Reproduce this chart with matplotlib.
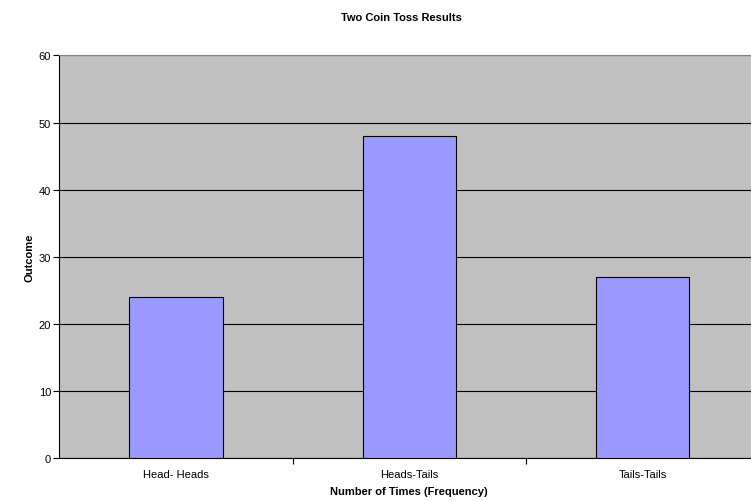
import matplotlib
matplotlib.use('Agg')
import matplotlib.pyplot as plt
import matplotlib.ticker as mtick

# data
categories = ['Head- Heads', 'Heads-Tails', 'Tails-Tails']
counts = [24, 48, 27]
yticks = [0, 10, 20, 30, 40, 50, 60]

plt.rcParams['font.family'] = ['Liberation Sans', 'DejaVu Sans']

fig = plt.figure(figsize=(7.51, 5.02), dpi=100)
# plot area runs a little past the right edge of the picture
ax = fig.add_axes([0.0792, 0.0857, 0.9314, 0.8018])
ax.set_facecolor('#C0C0C0')

pos = list(range(len(categories)))
ax.bar(pos, counts, width=0.4, color='#9999FF', edgecolor='black', linewidth=0.8, zorder=3)

ax.set_ylim(0, 60)
ax.set_xlim(-0.5, len(categories) - 0.5)
ax.set_yticks(yticks)
ax.yaxis.grid(True, color='black', linewidth=0.8, zorder=1)
ax.set_axisbelow(True)

ax.set_xticks(pos)
ax.set_xticklabels(categories)
ax.tick_params(axis='x', which='major', length=0, pad=8, labelsize=8)
ax.xaxis.set_minor_locator(mtick.FixedLocator([0.5, 1.5]))
ax.tick_params(axis='x', which='minor', length=4, width=0.8, direction='out')
ax.tick_params(axis='y', length=4, width=0.8, labelsize=8, pad=2)

ax.spines['right'].set_visible(False)
ax.spines['top'].set_color('#808080')
ax.spines['left'].set_linewidth(0.8)
ax.spines['bottom'].set_linewidth(0.8)

ax.set_xlabel('Number of Times (Frequency)', fontsize=8, fontweight='bold', labelpad=5)
ax.set_ylabel('Outcome', fontsize=8, fontweight='bold', labelpad=3)
fig.suptitle('Two Coin Toss Results', x=0.535, y=0.974, fontsize=8, fontweight='bold')

fig.savefig('out.png', dpi=100)
